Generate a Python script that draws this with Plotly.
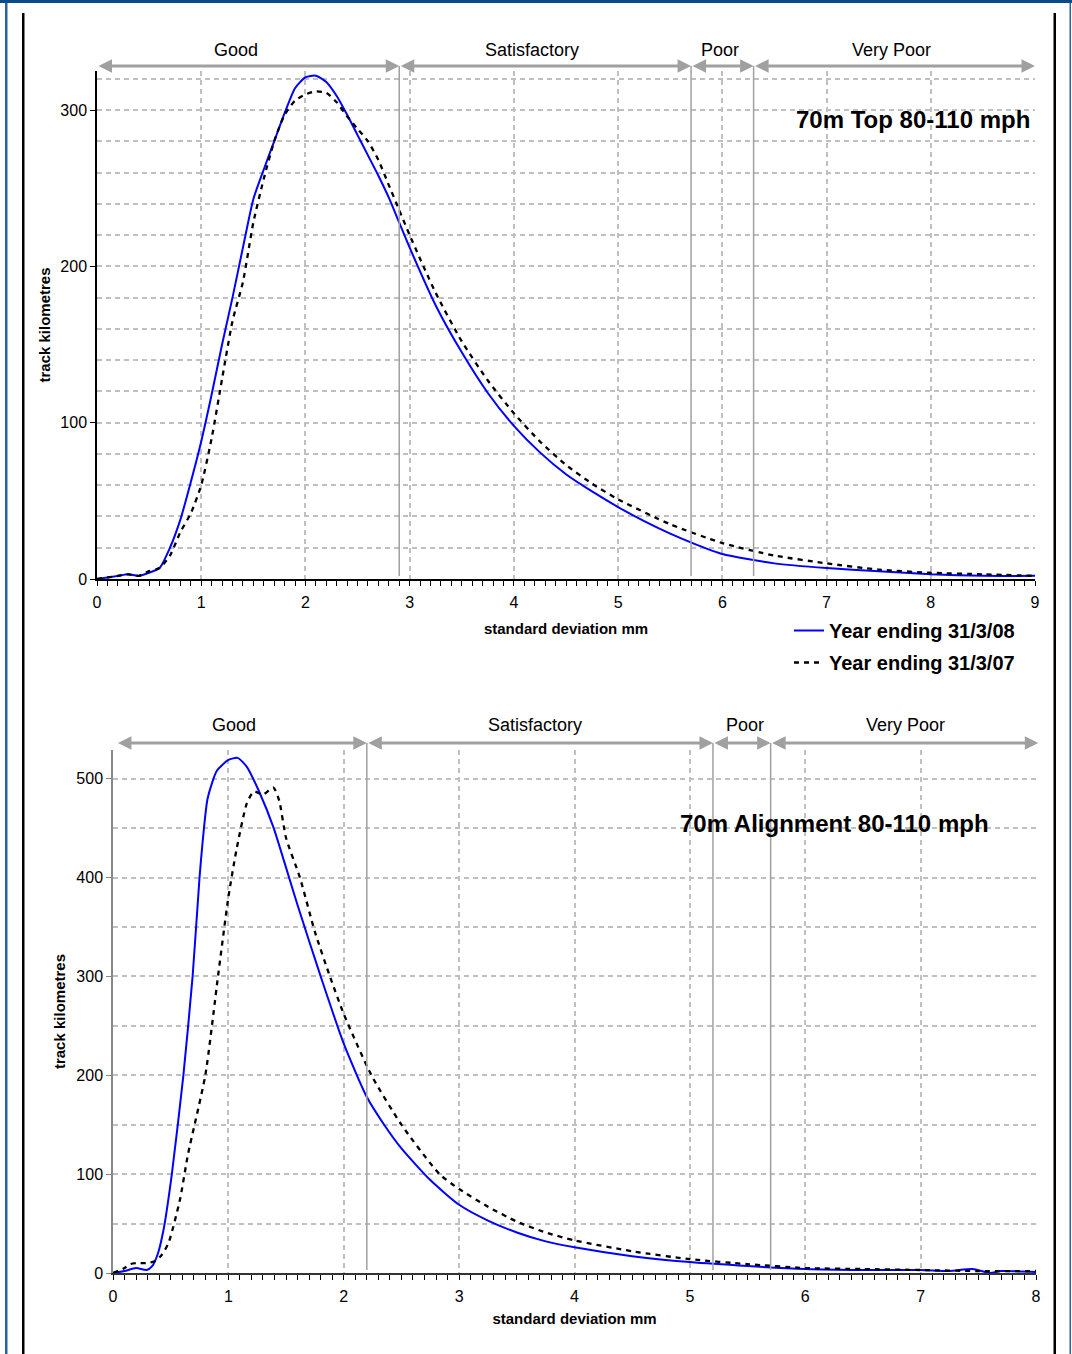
import plotly.graph_objects as go

W, H = 1072, 1354

# ---------------- data: top chart (70m Top) ----------------
top_x_08 = [0, 0.1, 0.2, 0.3, 0.4, 0.5, 0.6, 0.7, 0.8, 0.9, 1.0, 1.1, 1.2, 1.3, 1.4, 1.5,
            1.6, 1.7, 1.8, 1.9, 2.0, 2.1, 2.2, 2.3, 2.4, 2.5, 2.6, 2.7, 2.8, 2.9, 3.0, 3.25, 3.5,
            3.75, 4.0, 4.25, 4.5, 4.75, 5.0, 5.25, 5.5, 5.75, 6.0, 6.5, 7.0, 7.5, 8.0, 8.5, 9.0]
top_y_08 = [0, 1, 2, 3, 2, 4, 7, 20, 38, 62, 88, 118, 150, 180, 212, 243,
            262, 280, 298, 314, 321, 322, 318, 309, 297, 284, 271, 258, 244, 228, 212, 175, 145,
            119, 98, 81, 67, 56, 46, 37, 29, 22, 16, 10, 7, 5, 3, 2, 2]

top_x_07 = [0, 0.1, 0.2, 0.3, 0.4, 0.5, 0.6, 0.7, 0.8, 0.9, 1.0, 1.1, 1.2, 1.3, 1.4, 1.5, 1.6,
            1.7, 1.8, 1.9, 2.0, 2.1, 2.2, 2.3, 2.4, 2.5, 2.6, 2.7, 2.8, 2.9, 3.0, 3.25, 3.5, 3.75,
            4.0, 4.25, 4.5, 4.75, 5.0, 5.5, 6.0, 6.5, 7.0, 7.5, 8.0, 8.5, 9.0]
top_y_07 = [0, 1, 2, 3, 2, 5, 7, 15, 30, 42, 60, 90, 128, 165, 190, 228, 256,
            280, 297, 306, 310, 312, 311, 305, 296, 288, 280, 268, 252, 236, 220, 183, 152, 127,
            106, 88, 73, 61, 51, 35, 23, 15, 10, 6, 4, 3, 2]

# ---------------- data: bottom chart (70m Alignment) ----------------
bot_x_08 = [0, 0.1, 0.2, 0.29, 0.34, 0.39, 0.44, 0.51, 0.61, 0.69, 0.75, 0.78, 0.82, 0.9, 1.0,
            1.08, 1.16, 1.27, 1.39, 1.5, 1.6, 1.8, 2.0, 2.2, 2.35, 2.5, 2.75, 3.0, 3.25, 3.5,
            3.75, 4.0, 4.5, 5.0, 5.5, 6.0, 6.5, 7.0, 7.25, 7.45, 7.6, 7.7, 8.0]
bot_y_08 = [0, 2, 5, 3, 7, 20, 45, 100, 200, 300, 400, 440, 480, 508, 519,
            521, 512, 486, 451, 410, 372, 300, 232, 178, 150, 126, 94, 69, 53, 41,
            32, 26, 17, 11, 7, 4, 3, 3, 2, 4, 0, 2, 1]

bot_x_07 = [0, 0.1, 0.15, 0.2, 0.3, 0.36, 0.42, 0.48, 0.58, 0.65, 0.8, 0.91, 1.0, 1.07,
            1.16, 1.22, 1.3, 1.39, 1.44, 1.5, 1.62, 1.75, 1.88, 2.0, 2.24, 2.5, 2.83,
            3.0, 3.25, 3.5, 3.75, 4.0, 4.5, 5.0, 5.5, 6.0, 6.5, 7.0, 7.5, 8.0]
bot_y_07 = [0, 5, 9, 10, 10, 12, 18, 30, 74, 120, 200, 300, 380, 428,
            475, 487, 484, 491, 478, 440, 400, 345, 300, 262, 200, 150, 100,
            85, 67, 52, 41, 33, 22, 14, 9, 5, 4, 3, 2, 2]

# condition bands: (label, start, end, label position)
top_bands = [("Good", 0, 2.9, 1.33), ("Satisfactory", 2.9, 5.7, 4.17),
             ("Poor", 5.7, 6.3, 5.98), ("Very Poor", 6.3, 9.0, 7.62)]
bot_bands = [("Good", 0.03, 2.2, 1.05), ("Satisfactory", 2.2, 5.2, 3.66),
             ("Poor", 5.2, 5.7, 5.48), ("Very Poor", 5.7, 8.02, 6.87)]
top_limits = [2.9, 5.7, 6.3]
bot_limits = [2.2, 5.2, 5.7]

series_names = ["Year ending 31/3/08", "Year ending 31/3/07"]
top_title = "70m Top 80-110 mph"
bot_title = "70m Alignment 80-110 mph"
x_title = "standard deviation mm"
y_title = "track kilometres"

FONT = "Arial, 'Liberation Sans', Helvetica, sans-serif"
GRID = "#c0c0c0"
BAND = "#a0a0a0"
DASH = "5px,5px"


def py(pix):
    """pixel row -> paper fraction"""
    return (H - pix) / H


def px(pix):
    return pix / W


fig = go.Figure()

blue_line = dict(color="#0000ff", width=2, shape="spline", smoothing=0.6)
black_line = dict(color="#000000", width=2.3, dash=DASH, shape="spline", smoothing=0.6)

fig.add_trace(go.Scatter(x=top_x_08, y=top_y_08, mode="lines", name=series_names[0], legendgroup="a",
                         line=blue_line, xaxis="x", yaxis="y"))
fig.add_trace(go.Scatter(x=top_x_07, y=top_y_07, mode="lines", name=series_names[1], legendgroup="b",
                         line=black_line, xaxis="x", yaxis="y"))
fig.add_trace(go.Scatter(x=bot_x_08, y=bot_y_08, mode="lines", name=series_names[0], showlegend=False,
                         legendgroup="a", line=blue_line, xaxis="x2", yaxis="y2"))
fig.add_trace(go.Scatter(x=bot_x_07, y=bot_y_07, mode="lines", name=series_names[1], showlegend=False,
                         legendgroup="b", line=black_line, xaxis="x2", yaxis="y2"))

tickfont = dict(family=FONT, size=16, color="#000000")
titlefont = dict(family=FONT, size=15, color="#000000", weight="bold")

common_x = dict(showline=True, linewidth=1.5, ticks="outside", ticklen=5, tickwidth=1, tickcolor="#000",
                dtick=1, tick0=0, showgrid=True, gridcolor=GRID, griddash="5px,4px", gridwidth=1.5,
                zeroline=False, tickfont=tickfont, automargin=False, ticklabelstandoff=3,
                minor=dict(dtick=0.1, ticks="outside", ticklen=5, tickwidth=1, tickcolor="#000", showgrid=False))

fig.update_layout(
    template="none",
    width=W, height=H, autosize=False,
    margin=dict(l=0, r=0, t=0, b=0, pad=0, autoexpand=False),
    paper_bgcolor="white", plot_bgcolor="white",
    font=dict(family=FONT, color="#000"),
    xaxis=dict(domain=[px(97), px(1035)], anchor="y", range=[0, 9], linecolor="#000",
               title=dict(text=x_title, font=titlefont, standoff=14), **common_x),
    yaxis=dict(domain=[py(579), py(71)], anchor="x", range=[0, 325], showline=True, linecolor="#000",
               linewidth=1.5, ticks="outside", ticklen=5, tickcolor="#000", dtick=100, tick0=0,
               showgrid=True, gridcolor=GRID, griddash="5px,4px", gridwidth=1.5, zeroline=False,
               tickfont=tickfont, automargin=False,
               minor=dict(dtick=20, showgrid=True, gridcolor=GRID, griddash="5px,4px", gridwidth=1.5),
               title=dict(text=y_title, font=titlefont, standoff=6)),
    xaxis2=dict(domain=[px(113), px(1036)], anchor="y2", range=[0, 8], linecolor="#333",
                title=dict(text=x_title, font=titlefont, standoff=10), **common_x),
    yaxis2=dict(domain=[py(1273), py(750)], anchor="x2", range=[0, 529], showline=True, linecolor="#888",
                linewidth=1.5, ticks="outside", ticklen=5, tickcolor="#888", dtick=100, tick0=0,
                showgrid=True, gridcolor=GRID, griddash="5px,4px", gridwidth=1.5, zeroline=False,
                tickfont=tickfont, automargin=False,
                minor=dict(dtick=50, showgrid=True, gridcolor=GRID, griddash="5px,4px", gridwidth=1.5),
                title=dict(text=y_title, font=titlefont, standoff=7)),
    legend=dict(x=px(789), y=py(611), xanchor="left", yanchor="top", bgcolor="rgba(0,0,0,0)",
                font=dict(family=FONT, size=20, color="#000", weight="bold"), tracegroupgap=3,
                itemwidth=30, borderwidth=0),
    showlegend=True,
)

shapes = []
annotations = []

for v in top_limits:
    shapes.append(dict(type="line", xref="x", yref="paper", x0=v, x1=v, y0=py(576), y1=py(66),
                       line=dict(color=BAND, width=1.5), layer="above"))
for v in bot_limits:
    shapes.append(dict(type="line", xref="x2", yref="paper", x0=v, x1=v, y0=py(1270), y1=py(743),
                       line=dict(color=BAND, width=1.5), layer="above"))


def add_bands(bands, xref, arrow_pix, label_pix):
    for name, a, b, lx in bands:
        annotations.append(dict(xref=xref, yref="paper", x=b, y=py(arrow_pix), axref=xref, ayref="pixel",
                                ax=a, ay=0, showarrow=True, arrowside="end+start", arrowhead=2,
                                arrowsize=0.9, arrowwidth=3, arrowcolor=BAND, text=""))
        annotations.append(dict(xref=xref, yref="paper", x=lx, y=py(label_pix), showarrow=False,
                                text=name, font=dict(family=FONT, size=18, color="#000"),
                                yanchor="middle"))


add_bands(top_bands, "x", 66, 50)
add_bands(bot_bands, "x2", 743, 725)

annotations.append(dict(xref="paper", yref="paper", x=px(1032), y=py(120), xanchor="right", yanchor="middle",
                        text=top_title, showarrow=False,
                        font=dict(family=FONT, size=24, color="#000", weight="bold")))
annotations.append(dict(xref="paper", yref="paper", x=px(834), y=py(824), xanchor="center", yanchor="middle",
                        text=bot_title, showarrow=False,
                        font=dict(family=FONT, size=24, color="#000", weight="bold")))

# page frame
shapes += [
    dict(type="rect", xref="paper", yref="paper", x0=0, x1=1, y0=py(3), y1=1,
         fillcolor="#0b4a8b", line=dict(width=0), layer="above"),
    dict(type="rect", xref="paper", yref="paper", x0=px(5), x1=px(7.5), y0=0, y1=py(3),
         fillcolor="#2a62a6", line=dict(width=0), layer="above"),
    dict(type="rect", xref="paper", yref="paper", x0=px(1069.5), x1=px(1071), y0=0, y1=py(3),
         fillcolor="#2a62a6", line=dict(width=0), layer="above"),
    dict(type="rect", xref="paper", yref="paper", x0=px(22), x1=px(24.5), y0=0, y1=py(13),
         fillcolor="#000", line=dict(width=0), layer="above"),
    dict(type="rect", xref="paper", yref="paper", x0=px(1053.5), x1=px(1056), y0=0, y1=py(13),
         fillcolor="#000", line=dict(width=0), layer="above"),
]

fig.update_layout(shapes=shapes, annotations=annotations)

fig.write_html("out.html",
               post_script=("document.documentElement.style.margin='0';"
                            "document.documentElement.style.overflow='hidden';"
                            "document.body.style.margin='0';document.body.style.overflow='hidden';"))
